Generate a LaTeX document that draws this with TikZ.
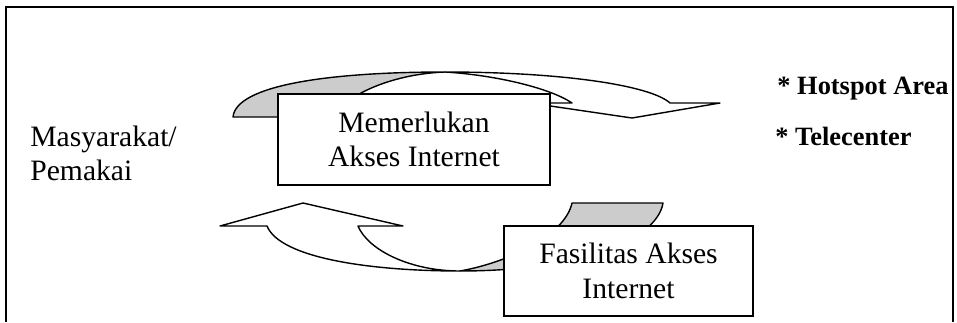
\documentclass[tikz,border=0pt]{standalone}
\usepackage{fontspec}
\setmainfont{Liberation Serif}
\usetikzlibrary{positioning}
\tikzset{
  frame/.style={draw=black, line width=1pt},
  box/.style={rectangle, fill=white, draw=black, line width=1pt, inner sep=0pt,
    minimum width=136pt, minimum height=45.5pt, align=center,
    font=\fontsize{14.8}{16.8}\selectfont},
  back/.style={fill=gray!40, draw=black, line width=0.7pt, line join=round},
  front/.style={fill=white, draw=black, line width=0.7pt, line join=round},
  lbl/.style={font=\fontsize{14.8}{17}\selectfont, inner sep=0pt, align=left},
  item/.style={font=\fontsize{13.2}{15}\selectfont\bfseries, inner sep=0pt}
}
\begin{document}
\begin{tikzpicture}[x=0.5pt, y=-0.5pt]
    \useasboundingbox (0,0) rectangle (957,322);
    \draw[frame] (6,322) -- (6,7) -- (953,7) -- (953,322);
    % upper curved arrow
    \draw[back] (233,117) -- (335,117) .. controls (342,97) and (390,74) .. (445,72)
      .. controls (330,72) and (236,85) .. (233,117) -- cycle;
    \draw[front] (445,72) .. controls (560,72) and (650,85) .. (670,103) -- (720,103)
      -- (632,118) -- (530,103) -- (572,103) .. controls (550,88) and (495,75) .. (445,72) -- cycle;
    % lower curved arrow
    \draw[front] (267,226) -- (220,226) -- (303,203) -- (403,226) -- (358,226)
      .. controls (368,250) and (410,271) .. (460,271)
      .. controls (370,271) and (280,258) .. (267,226) -- cycle;
    \draw[back] (460,271) .. controls (580,271) and (657,240) .. (663,203) -- (572,203)
      .. controls (565,235) and (510,262) .. (460,271) -- cycle;
    \node[box] (akses) at (414,139.5) {Memerlukan\\Akses Internet};
    \node[box, minimum width=124.5pt, minimum height=45pt, font=\fontsize{14.8}{17.5}\selectfont]
      (fasilitas) at (628.5,271) {Fasilitas Akses\\Internet};
    \node[lbl, anchor=north west] (user) at (30,126) {Masyarakat/\\Pemakai};
    \node[item, anchor=base west] (hotspot) at (777,94) {* Hotspot Area};
    \node[item, anchor=base west] (telecenter) at (775,145) {* Telecenter};
  \end{tikzpicture}
\end{document}
